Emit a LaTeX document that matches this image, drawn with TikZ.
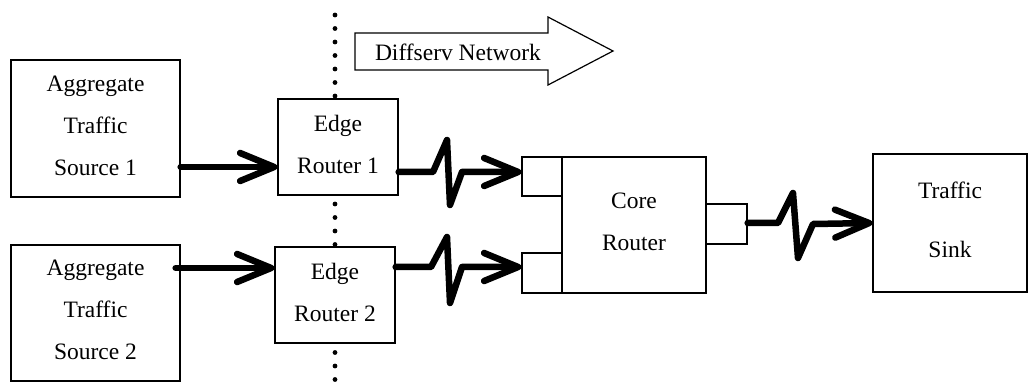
\documentclass[tikz,border=0pt]{standalone}
\usepackage{fontspec}
\setmainfont{Liberation Serif}
\usetikzlibrary{arrows.meta}
\begin{document}
\begin{tikzpicture}[x=1pt,y=-1pt,
  box/.style={draw,line width=1.3pt,fill=white,inner sep=0pt,align=center,
    font=\fontsize{23.5}{42}\selectfont,
    execute at end node={\rule[-6pt]{0pt}{6pt}}},
  port/.style={draw,line width=1.3pt,fill=white,inner sep=0pt},
  flow/.style={line width=6.5pt,line join=round,line cap=round,
    -{Straight Barb[length=34pt,width=28pt,round]}}]
\useasboundingbox (0,0) rectangle (1029,382);

% domain boundary of the Diffserv network
\foreach \y in {15,28.5,...,382} \fill (335,\y) circle (2.4pt);

% Diffserv network direction arrow
\draw[line width=1.2pt,fill=white] (355,33) -- (548,33) -- (548,17) -- (613,51)
  -- (548,85) -- (548,70) -- (355,70) -- cycle;
\node[font=\fontsize{23.5}{24}\selectfont] (net) at (458,52) {Diffserv Network};

% sources
\node[box,minimum width=169pt,minimum height=137pt] (s1) at (95.5,128.5)
  {Aggregate\\Traffic\\Source 1};
\node[box,minimum width=169pt,minimum height=136pt] (s2) at (95.5,313)
  {Aggregate\\Traffic\\Source 2};

% edge routers
\node[box,minimum width=120pt,minimum height=96pt] (e1) at (338,147)
  {Edge\\Router 1};
\node[box,minimum width=120pt,minimum height=96pt] (e2) at (335,295)
  {Edge\\Router 2};

% core router with its ports
\node[box,minimum width=144pt,minimum height=136pt] (core) at (634,225)
  {Core\\Router};
\node[port,minimum width=40pt,minimum height=39pt] (p1) at (542,176.5) {};
\node[port,minimum width=40pt,minimum height=40pt] (p2) at (542,273) {};
\node[port,minimum width=41pt,minimum height=40pt] (p3) at (726.5,224) {};

% sink
\node[box,minimum width=154pt,minimum height=138pt,
  font=\fontsize{23.5}{59}\selectfont] (sink) at (950,223) {Traffic\\Sink};

% flow levels
\coordinate (y1) at (0,167);
\coordinate (y2) at (0,268);
\coordinate (y3) at (0,172);
\coordinate (y4) at (0,267);
\coordinate (y5) at (0,223);

% access links
\draw[flow] (s1.east |- y1) -- (e1.west |- y1);
\draw[flow] ([xshift=-5pt]s2.east |- y2) -- (e2.west |- y2);

% lossy links towards the core and the sink
\draw[flow] (e1.east |- y3) -- (433,172) -- (447,140) -- (450,205) -- (462,172)
  -- (p1.west |- y3);
\draw[flow] (e2.east |- y4) -- (431,267) -- (447,237) -- (450,303) -- (462,267)
  -- (p2.west |- y4);
\draw[flow] (p3.east |- y5) -- (778,223) -- (793,193) -- (798,258) -- (813,224)
  -- (sink.west |- y5);
\end{tikzpicture}
\end{document}
